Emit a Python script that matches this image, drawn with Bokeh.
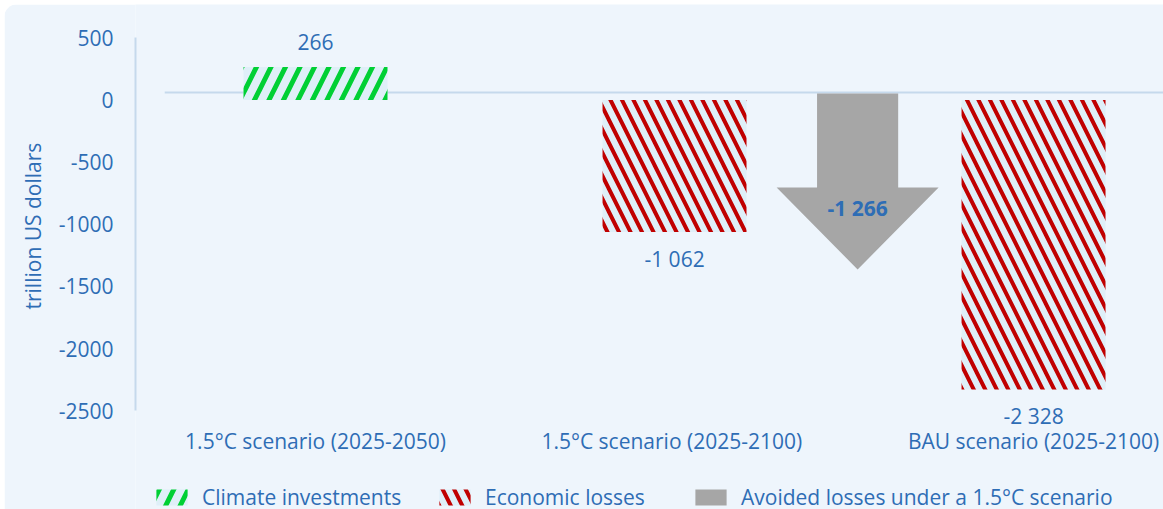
from bokeh.plotting import figure
from bokeh.models import Range1d, FixedTicker, Legend, LegendItem, ColumnDataSource, Title
from bokeh.core.properties import value
from bokeh.embed import file_html
from bokeh.resources import INLINE

# ---------------- data ----------------
categories = ["1.5°C scenario (2025-2050)", "1.5°C scenario  (2025-2100)", "BAU scenario (2025-2100)"]
values = [266, -1062, -2328]
series_names = ["Climate investments", "Economic losses"]
avoided_name = "Avoided losses under a 1.5°C scenario"
y_ticks = [500, 0, -500, -1000, -1500, -2000, -2500]
y_tick_labels = ["500", "0", "-500", "-1000", "-1500", "-2000", "-2500"]
y_title = "trillion US dollars"

avoided = values[2] - values[1]   # -1266

def fmt(v):
    return f"{v:,}".replace(",", " ")

# ---------------- style ----------------
BG = "#EEF5FC"
TXT = "#2E6DB5"
AXIS = "#C5D9EC"
GREEN = "#00D034"
RED = "#C00000"
GREY = "#A6A6A6"
BARFILL = "#DFEFF8"
FONT = "Open Sans"
FS = "21px"

p = figure(width=1159, height=505, output_backend="svg", toolbar_location=None,
           x_range=Range1d(-0.5014, 2.362), y_range=Range1d(-3294, 768),
           x_axis_location=None, min_border_left=131, min_border_right=0,
           min_border_top=0, min_border_bottom=0)
p.styles = {"margin-left": "4px", "margin-top": "4px",
            "border-top-left-radius": "14px", "overflow": "hidden"}
p.background_fill_color = BG
p.border_fill_color = BG
p.outline_line_color = None
p.xgrid.visible = False
p.ygrid.visible = False

ax = p.yaxis[0]
ax.ticker = FixedTicker(ticks=y_ticks)
ax.major_label_overrides = {t: l for t, l in zip(y_ticks, y_tick_labels)}
ax.bounds = (min(y_ticks), max(y_ticks))
ax.axis_line_color = AXIS
ax.axis_line_width = 2
ax.major_tick_line_color = None
ax.minor_tick_line_color = None
ax.major_tick_out = 0
ax.major_label_standoff = 22
ax.major_label_text_font = FONT
ax.major_label_text_font_size = FS
ax.major_label_text_color = TXT

# axis title, centred along the axis line
p.add_layout(Title(text=y_title, align="left", offset=200, standoff=18,
                   text_font=FONT, text_font_size=FS, text_font_style="normal",
                   text_color=TXT), "left")

# zero reference line (drawn slightly above zero as in the original)
p.segment(x0=[-0.42], y0=[60], x1=[2.5], y1=[60], line_color=AXIS, line_width=2)

xs = list(range(len(categories)))
BW = 0.401

r_green = p.vbar(x=[xs[0]], top=[values[0]], bottom=0, width=BW,
                 fill_color=BARFILL, line_color=None,
                 hatch_pattern="/", hatch_color=GREEN, hatch_scale=29, hatch_weight=5)
r_red = p.vbar(x=xs[1:], top=values[1:], bottom=0, width=BW,
               fill_color=BARFILL, line_color=None,
               hatch_pattern="\\", hatch_color=RED, hatch_scale=23, hatch_weight=4)

# arrow for avoided losses, placed between the two loss bars
ax_c = (xs[1] + xs[2]) / 2 + 0.01
bw_, hw_ = 0.113, 0.2256
top_y = -0.041 * avoided
head_y = 0.556 * avoided
tip_y = 1.077 * avoided
arrow_x = [ax_c - bw_, ax_c + bw_, ax_c + bw_, ax_c + hw_, ax_c, ax_c - hw_, ax_c - bw_]
arrow_y = [top_y, top_y, head_y, head_y, tip_y, head_y, head_y]
r_arrow = p.patch(arrow_x, arrow_y, fill_color=GREY, line_color=None)

# value labels
src = ColumnDataSource(dict(x=xs, y=values, t=[fmt(v) for v in values],
                            off=[-25 if v > 0 else 27 for v in values]))
p.text(x="x", y="y", text="t", y_offset="off", source=src, text_align="center",
       text_baseline="middle", text_font=value(FONT), text_font_size=FS, text_color=TXT)
p.text(x=[ax_c], y=[0.689 * avoided], text=[fmt(avoided)], text_align="center",
       text_baseline="middle", text_font=value(FONT), text_font_size=FS,
       text_font_style="bold", text_color=TXT)

# category labels
p.text(x=xs, y=[-2745] * len(xs), text=categories, text_align="center",
       text_baseline="middle", text_font=value(FONT), text_font_size=FS, text_color=TXT)

# legends
def mk_legend(label, rend, xloc):
    lg = Legend(items=[LegendItem(label=label, renderers=[rend])], location=(xloc, -2),
                orientation="horizontal", glyph_width=39, glyph_height=20,
                label_standoff=11, padding=0, margin=0, spacing=0,
                background_fill_alpha=0, border_line_alpha=0,
                label_text_font=FONT, label_text_font_size=FS, label_text_color=TXT)
    p.add_layout(lg)

mk_legend(series_names[0], r_green, 17)
mk_legend(series_names[1], r_red, 300)
mk_legend(avoided_name, r_arrow, 556)

open("out.html", "w").write(file_html(p, INLINE))
